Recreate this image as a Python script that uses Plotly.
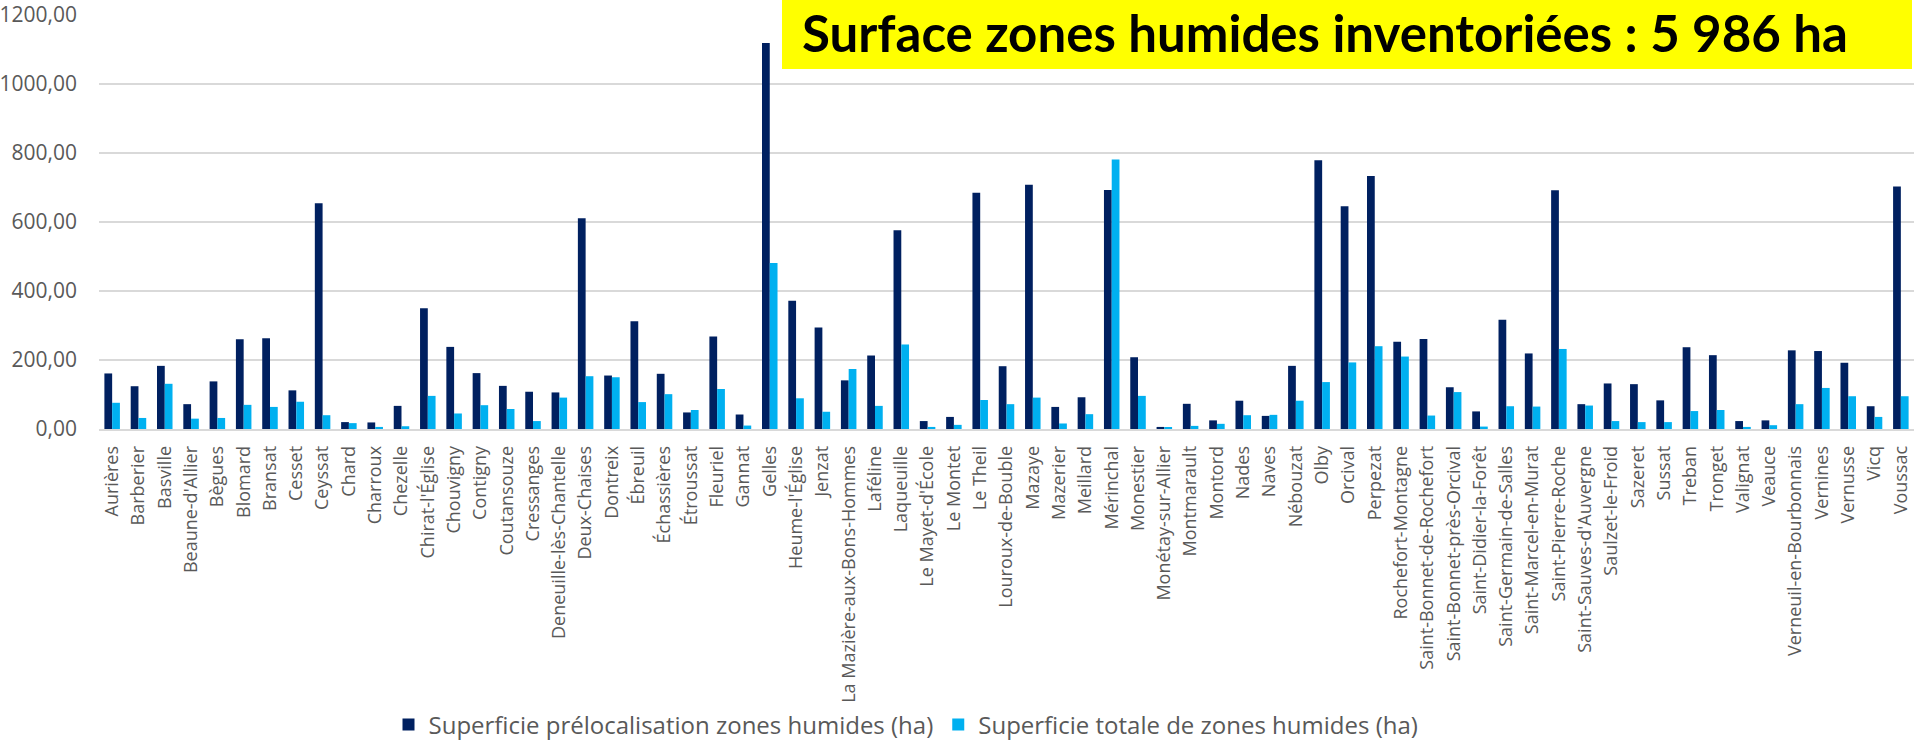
import plotly.graph_objects as go

communes = [
    "Aurières", "Barberier", "Basville", "Beaune-d'Allier", "Bègues", "Blomard", "Bransat",
    "Cesset", "Ceyssat", "Chard", "Charroux", "Chezelle", "Chirat-l'Église", "Chouvigny",
    "Contigny", "Coutansouze", "Cressanges", "Deneuille-lès-Chantelle", "Deux-Chaises",
    "Dontreix", "Ébreuil", "Échassières", "Étroussat", "Fleuriel", "Gannat", "Gelles",
    "Heume-l'Église", "Jenzat", "La Mazière-aux-Bons-Hommes", "Laféline", "Laqueuille",
    "Le Mayet-d'École", "Le Montet", "Le Theil", "Louroux-de-Bouble", "Mazaye", "Mazerier",
    "Meillard", "Mérinchal", "Monestier", "Monétay-sur-Allier", "Montmarault", "Montord",
    "Nades", "Naves", "Nébouzat", "Olby", "Orcival", "Perpezat", "Rochefort-Montagne",
    "Saint-Bonnet-de-Rochefort", "Saint-Bonnet-près-Orcival", "Saint-Didier-la-Forêt",
    "Saint-Germain-de-Salles", "Saint-Marcel-en-Murat", "Saint-Pierre-Roche",
    "Saint-Sauves-d'Auvergne", "Saulzet-le-Froid", "Sazeret", "Sussat", "Treban", "Tronget",
    "Valignat", "Veauce", "Verneuil-en-Bourbonnais", "Vernines", "Vernusse", "Vicq", "Voussac",
]

prelocalisation = [
    161, 124, 183, 72, 138, 260, 263, 112, 654, 20, 19, 67, 350, 238,
    162, 125, 108, 106, 611, 155, 312, 160, 48, 268, 42, 1119,
    372, 294, 141, 213, 576, 23, 35, 685, 182, 708, 64,
    92, 693, 208, 6, 73, 25, 82, 38, 183, 779, 646, 733, 253,
    261, 121, 51, 317, 219, 692, 72, 132, 130, 83, 237, 214,
    23, 25, 228, 226, 192, 66, 703,
]

totale = [
    76, 32, 131, 30, 32, 70, 64, 79, 40, 17, 6, 8, 96, 45,
    69, 58, 23, 91, 153, 150, 78, 101, 55, 116, 10, 481,
    89, 50, 174, 67, 245, 6, 12, 84, 72, 91, 16,
    43, 781, 96, 5, 9, 15, 40, 41, 82, 136, 193, 240, 210,
    39, 107, 7, 66, 65, 232, 68, 23, 20, 20, 52, 55,
    6, 11, 72, 119, 95, 35, 95,
]

series_names = [
    "Superficie prélocalisation zones humides (ha)",
    "Superficie totale de zones humides (ha)",
]
title_text = "Surface zones humides inventoriées : 5 986 ha"

fig = go.Figure()
fig.add_trace(go.Bar(x=communes, y=prelocalisation, name=series_names[0],
                     marker=dict(color="#002060", line=dict(width=0))))
fig.add_trace(go.Bar(x=communes, y=totale, name=series_names[1],
                     marker=dict(color="#00B0F0", line=dict(width=0))))

W, H = 1915, 742
ml, mr, mt, mb = 99, 1, 15, 313
ph = H - mt - mb
pw = W - ml - mr

def px_x(x):
    return (x - ml) / pw

def px_y(y):
    return (H - mb - y) / ph

fig.add_shape(type="rect", xref="paper", yref="paper",
              x0=px_x(782), x1=px_x(1912), y0=px_y(69), y1=px_y(0),
              fillcolor="#FFFF00", line=dict(width=0), layer="above")
fig.add_annotation(text="<b>" + title_text + "</b>", xref="paper", yref="paper",
                   x=px_x(801), y=px_y(33), xanchor="left", yanchor="middle",
                   showarrow=False, borderpad=0,
                   font=dict(family="Lato", size=51, color="#000000"))

fig.update_layout(
    width=W, height=H,
    template="none",
    margin=dict(l=ml, r=mr, t=mt, b=mb, autoexpand=False),
    paper_bgcolor="white", plot_bgcolor="white",
    barmode="group", bargap=0.41, bargroupgap=0,
    separators=", ",
    font=dict(family="Open Sans", color="#595959"),
    showlegend=True,
    legend=dict(orientation="h", x=px_x(906), xanchor="center",
                y=px_y(725), yanchor="middle",
                font=dict(family="Open Sans", size=24, color="#595959"),
                itemclick=False, itemwidth=30, bgcolor="rgba(0,0,0,0)",
                borderwidth=0, tracegroupgap=0),
    xaxis=dict(tickangle=-90, tickfont=dict(size=18, color="#595959"),
               showline=True, linecolor="#D9D9D9", linewidth=1.5,
               ticks="", ticklabelstandoff=8, showgrid=False,
               automargin=False, ticklabeloverflow="allow"),
    yaxis=dict(range=[0, 1200], dtick=200, tickformat=".2f",
               tickfont=dict(size=21, color="#595959"),
               gridcolor="#D9D9D9", gridwidth=1.5, zeroline=False,
               showline=False, ticks="", ticklabelstandoff=21,
               automargin=False),
)

fig.write_html(
    "out.html",
    config={"displayModeBar": False},
    post_script="document.body.style.margin='0';document.body.style.overflow='hidden';",
)
